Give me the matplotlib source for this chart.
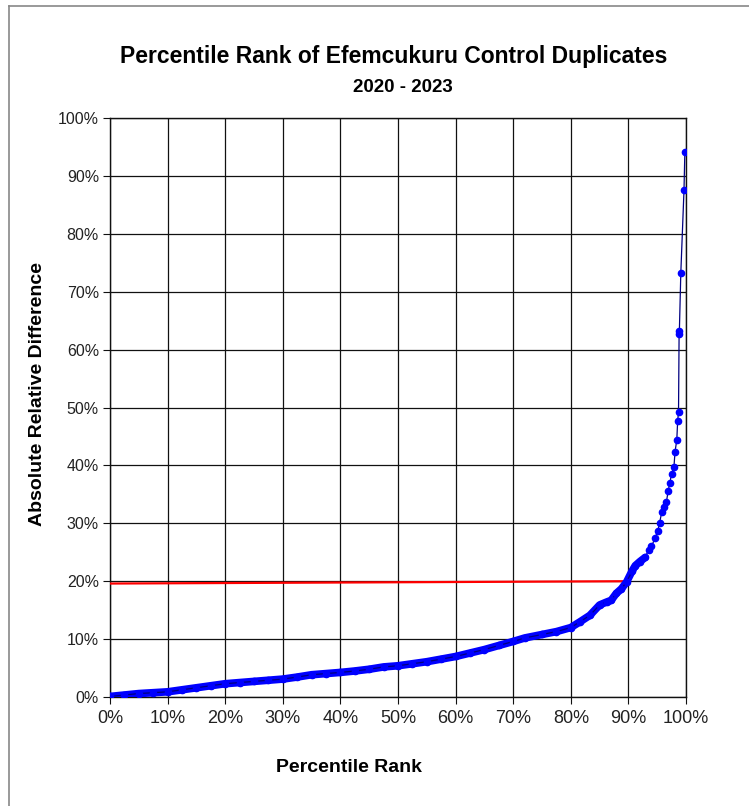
import matplotlib.pyplot as plt
from matplotlib.lines import Line2D
from matplotlib.ticker import PercentFormatter

plt.rcParams['font.family'] = ['Liberation Sans', 'DejaVu Sans']

# percentile rank (%) and absolute relative difference (%)
rank = [0, 2.5, 5, 7.5, 10, 12.5, 15, 17.5, 20, 22.5, 25, 27.5, 30, 32.5, 35, 37.5,
        40, 42.5, 45, 47.5, 50, 52.5, 55, 57.5, 60, 62.5, 65, 67.5, 70, 72, 75,
        77.5, 80, 81.6, 83.3, 85, 86.2, 87, 87.9, 88.8, 89.7, 90.6, 91.2, 92,
        92.9, 93.5, 94, 94.6, 95.1, 95.4, 95.8, 96.2, 96.6, 96.9, 97.2, 97.5,
        97.9, 98.1, 98.4, 98.55, 98.7, 98.8, 98.85, 99.1, 99.65, 99.8]
ard = [0.1, 0.35, 0.6, 0.75, 0.9, 1.25, 1.6, 1.95, 2.3, 2.5, 2.7, 2.9, 3.1, 3.45, 3.85,
       4.05, 4.25, 4.5, 4.8, 5.2, 5.4, 5.75, 6.1, 6.55, 7.0, 7.6, 8.2, 8.9, 9.6,
       10.2, 10.8, 11.3, 12.0, 13.0, 14.1, 15.9, 16.4, 16.7, 17.9, 18.7, 19.9,
       21.7, 22.7, 23.4, 24.1, 25.4, 26.0, 27.4, 28.7, 30.0, 32.0, 32.9, 33.7,
       35.6, 37.0, 38.6, 39.7, 42.4, 44.4, 47.7, 49.2, 62.7, 63.3, 73.3, 87.5, 94.1]

# red reference line
ref_x = [0, 90]
ref_y = [19.6, 20.0]

dense = [i for i, r in enumerate(rank) if r <= 93]

fig = plt.figure(figsize=(7.49, 8.06), dpi=100)
ax = fig.add_axes([0.1469, 0.1352, 0.9159 - 0.1469, 0.8536 - 0.1352])

ax.plot(ref_x, ref_y, color='#ff0000', lw=1.6, zorder=3)
ax.plot([rank[i] for i in dense], [ard[i] for i in dense], color='#0000ff',
        lw=5.5, solid_capstyle='round', zorder=4)
ax.plot(rank, ard, color='#000080', lw=0.9, marker='o', ms=4.5,
        mfc='#0000ff', mec='#0000ff', zorder=5)

ax.set_xlim(0, 100)
ax.set_ylim(0, 100)
ax.set_xticks(range(0, 101, 10))
ax.set_yticks(range(0, 101, 10))
ax.xaxis.set_major_formatter(PercentFormatter(decimals=0))
ax.yaxis.set_major_formatter(PercentFormatter(decimals=0))
ax.grid(True, color='#111111', lw=0.9)
ax.set_axisbelow(True)
for s in ax.spines.values():
    s.set_color('#111111')
    s.set_linewidth(1.0)
ax.tick_params(axis='x', labelsize=13, length=5, color='#111111', labelcolor='#222222', pad=4)
ax.tick_params(axis='y', labelsize=11.5, length=5, color='#111111', labelcolor='#222222', pad=3)

fig.text(38 / 749, 1 - 394 / 806, 'Absolute Relative Difference', ha='center', va='center',
         rotation=90, fontsize=14, fontweight='bold')
fig.text(349 / 749, 1 - 767 / 806, 'Percentile Rank', ha='center', va='center',
         fontsize=14, fontweight='bold')

fig.text(394 / 749, 1 - 57 / 806, 'Percentile Rank of Efemcukuru Control Duplicates',
         ha='center', va='center', fontsize=16.5, fontweight='bold')
fig.text(403 / 749, 1 - 87 / 806, '2020 - 2023', ha='center', va='center',
         fontsize=13.5, fontweight='bold')

# frame around chart (left and top edges visible)
fig.add_artist(Line2D([9 / 749, 9 / 749], [0, 1 - 6 / 806], color='#888888', lw=1.2))
fig.add_artist(Line2D([9 / 749, 1], [1 - 6 / 806, 1 - 6 / 806], color='#888888', lw=1.2))

fig.savefig('out.png', dpi=100)
